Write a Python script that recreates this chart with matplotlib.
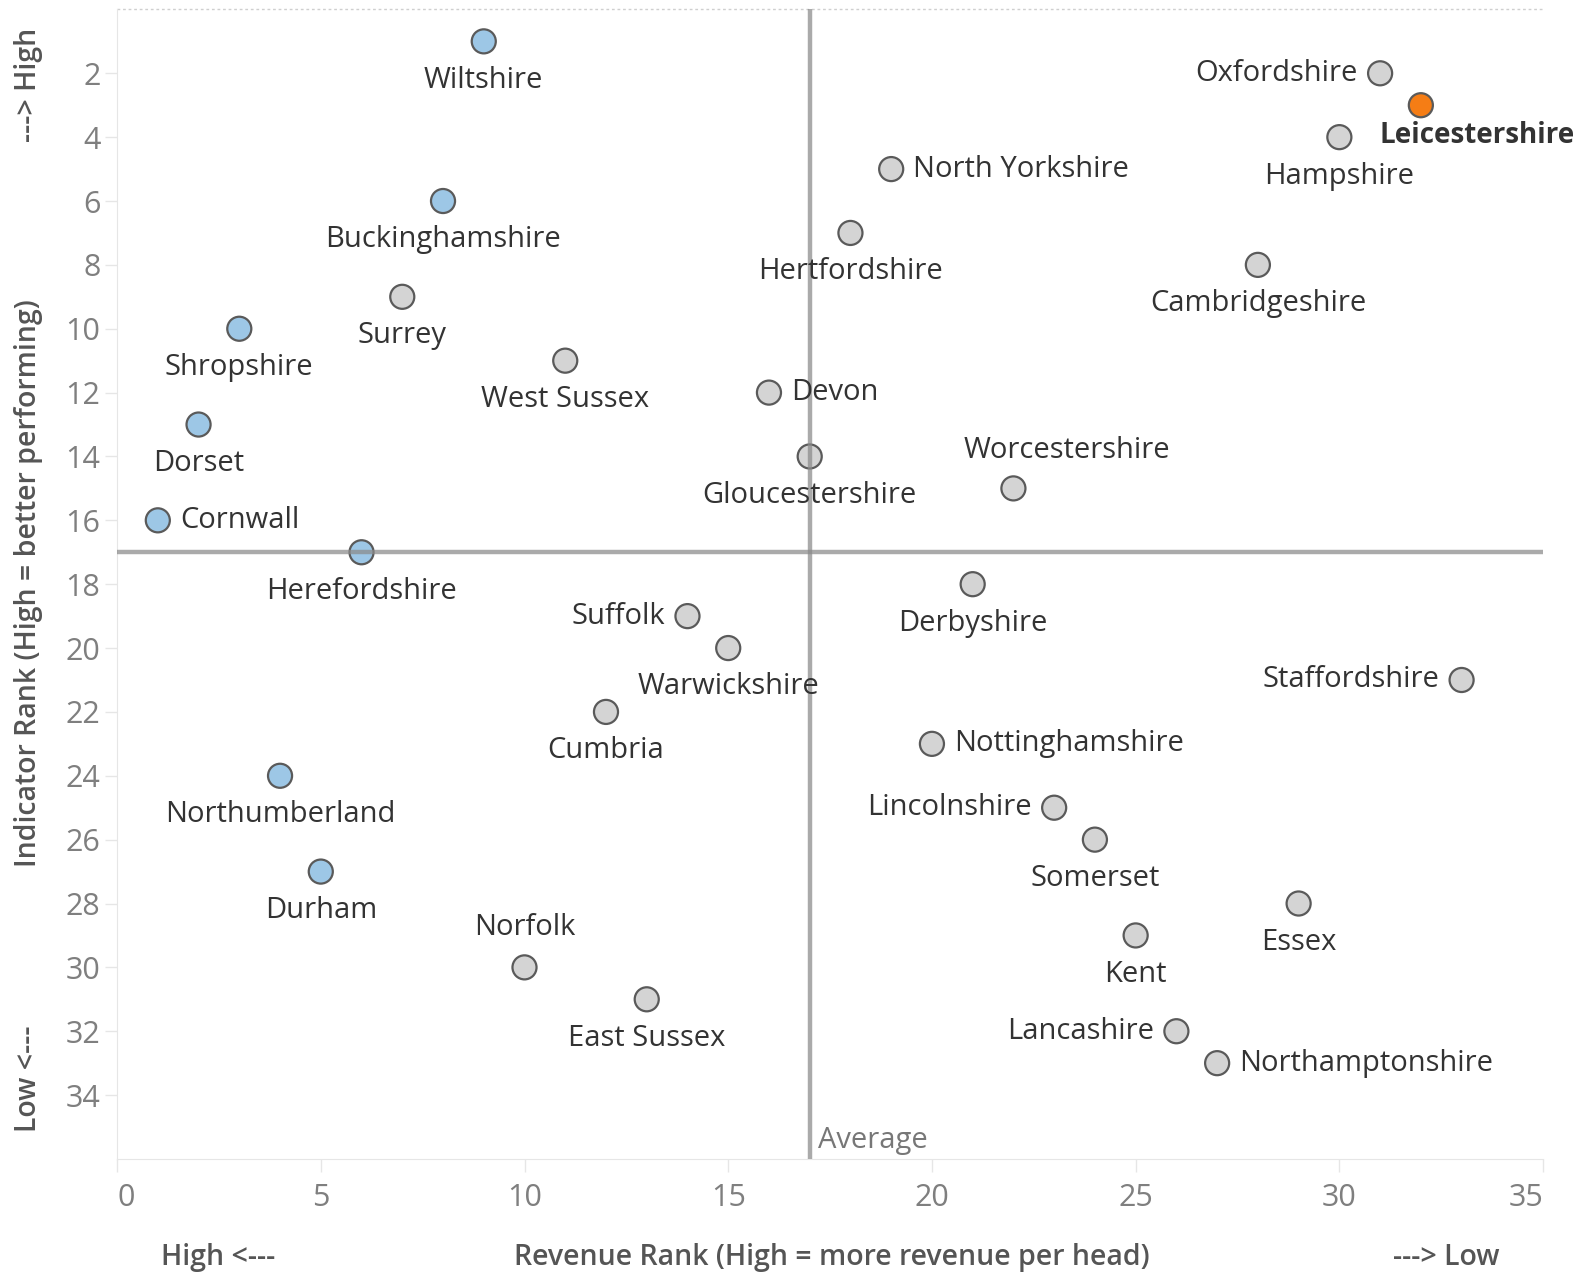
import matplotlib
matplotlib.use("Agg")
import matplotlib.pyplot as plt

plt.rcParams['font.family'] = ['Open Sans', 'DejaVu Sans']

counties = ["Wiltshire", "Oxfordshire", "Leicestershire", "Hampshire", "North Yorkshire",
            "Buckinghamshire", "Hertfordshire", "Cambridgeshire", "Surrey", "Shropshire",
            "West Sussex", "Devon", "Dorset", "Gloucestershire", "Worcestershire",
            "Cornwall", "Herefordshire", "Derbyshire", "Suffolk", "Warwickshire",
            "Staffordshire", "Cumbria", "Nottinghamshire", "Northumberland", "Lincolnshire",
            "Somerset", "Durham", "Essex", "Kent", "Norfolk",
            "East Sussex", "Lancashire", "Northamptonshire"]
revenue_rank = [9, 31, 32, 30, 19, 8, 18, 28, 7, 3, 11, 16, 2, 17, 22, 1, 6, 21, 14, 15,
                33, 12, 20, 4, 23, 24, 5, 29, 25, 10, 13, 26, 27]
indicator_rank = [1, 2, 3, 4, 5, 6, 7, 8, 9, 10, 11, 12, 13, 14, 15, 16, 17, 18, 19, 20,
                  21, 22, 23, 24, 25, 26, 27, 28, 29, 30, 31, 32, 33]
# county group: 'rural' (blue), 'other' (grey), 'focus' (orange)
group = ["rural", "other", "focus", "other", "other", "rural", "other", "other", "other", "rural",
         "other", "other", "rural", "other", "other", "rural", "rural", "other", "other", "other",
         "other", "other", "other", "rural", "other", "other", "rural", "other", "other", "other",
         "other", "other", "other"]
avg_revenue = 17
avg_indicator = 17

colors = {"rural": "#9dc7e6", "other": "#d4d4d4", "focus": "#f57d15"}

# where each label sits relative to its point
label_pos = {"Oxfordshire": "l", "Leicestershire": "br", "North Yorkshire": "r", "Devon": "r",
             "Worcestershire": "tr", "Cornwall": "r", "Suffolk": "l", "Staffordshire": "l",
             "Nottinghamshire": "r", "Lincolnshire": "l", "Norfolk": "t", "Lancashire": "l",
             "Northamptonshire": "r"}
offsets = {"b": ((0, -28), "center", "center"),
           "t": ((0, 29), "center", "center"),
           "l": ((-16, 0), "right", "center"),
           "r": ((16, 0), "left", "center"),
           "br": ((-30, -22), "left", "center"),
           "tr": ((-36, 27), "left", "center")}

fig = plt.figure(figsize=(15.82, 12.74), dpi=100)
ax = fig.add_axes([0.074, 0.0903, 0.9014, 0.9023])

ax.axvline(avg_revenue, color="#8a8a8a", lw=3.2, alpha=0.72, zorder=4)
ax.axhline(avg_indicator, color="#8a8a8a", lw=3.2, alpha=0.72, zorder=4)

ax.scatter(revenue_rank, indicator_rank, s=300, c=[colors[g] for g in group],
           edgecolors="#5a5a5a", linewidths=1.6, zorder=3)

for name, x, y, g in zip(counties, revenue_rank, indicator_rank, group):
    off, ha, va = offsets[label_pos.get(name, "b")]
    bold = g == "focus"
    ax.annotate(name, (x, y), xytext=off, textcoords="offset points", ha=ha, va=va,
                fontsize=20 if bold else 21, color="#333333",
                fontweight="bold" if bold else "normal", zorder=5)

ax.annotate("Average", (avg_revenue, 36), xytext=(6, 3), textcoords="offset points",
            ha="left", va="bottom", fontsize=21, color="#777777")

ax.set_xlim(0, 35)
ax.set_ylim(36, 0)
ax.set_xticks(range(0, 36, 5))
ax.set_yticks(range(2, 35, 2))
ax.tick_params(colors="#e6e6e6", labelcolor="#7f7f7f", labelsize=22, length=9, width=1)
ax.tick_params(axis="x", pad=8)
ax.tick_params(axis="y", pad=3)
xlabels = ax.get_xticklabels()
xlabels[0].set_horizontalalignment("left")
xlabels[-1].set_horizontalalignment("right")

for side in ["right", "top"]:
    ax.spines[side].set_visible(False)
for side in ["left", "bottom"]:
    ax.spines[side].set_color("#e6e6e6")
ax.plot([0, 1], [1, 1], transform=ax.transAxes, ls=(0, (2, 2)), color="#cfcfcf",
        lw=1, clip_on=False)

title_kw = dict(fontsize=20.5, color="#555555", fontweight="semibold")
fig.text(0.526, 0.0127, "Revenue Rank (High = more revenue per head)", ha="center", va="center", **title_kw)
fig.text(0.138, 0.0127, "High <---", ha="center", va="center", **title_kw)
fig.text(0.914, 0.0127, "---> Low", ha="center", va="center", **title_kw)
fig.text(0.018, 0.542, "Indicator Rank (High = better performing)", rotation=90,
         ha="center", va="center", **title_kw)
fig.text(0.018, 0.933, "---> High", rotation=90, ha="center", va="center", **title_kw)
fig.text(0.018, 0.153, "Low <---", rotation=90, ha="center", va="center", **title_kw)

fig.savefig("out.png", dpi=100)
